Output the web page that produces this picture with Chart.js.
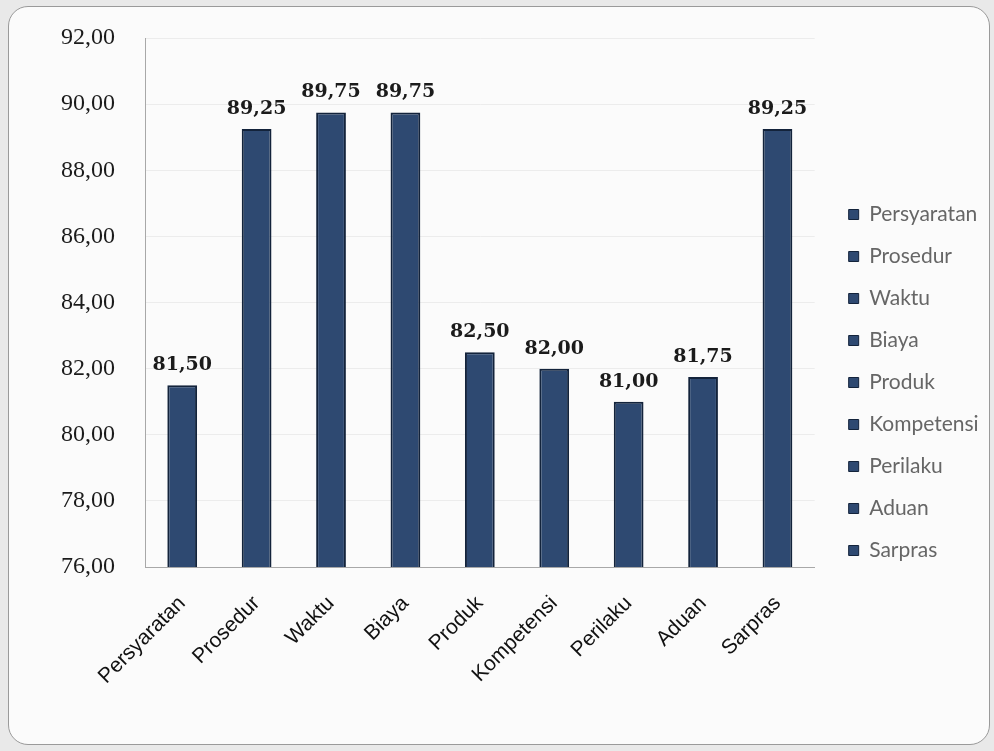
<!DOCTYPE html>
<html>
<head>
<meta charset="utf-8">
<script src="https://cdn.jsdelivr.net/npm/chart.js@4.4.1/dist/chart.umd.min.js"></script>
<style>
  html, body { margin: 0; padding: 0; background: #e9e9e9; }
  #card {
    position: absolute; left: 8px; top: 6px; width: 980px; height: 737px;
    background: #fbfbfb; border: 1px solid #9a9a9a; border-radius: 20px;
  }
  #wrap { position: absolute; left: 0; top: 0; width: 994px; height: 751px; }
</style>
</head>
<body>
<div id="card"></div>
<div id="wrap"><canvas id="myChart" width="994" height="751"></canvas></div>
<script>
// categories and values
const categories = ["Persyaratan", "Prosedur", "Waktu", "Biaya", "Produk", "Kompetensi", "Perilaku", "Aduan", "Sarpras"];
const scores = [81.50, 89.25, 89.75, 89.75, 82.50, 82.00, 81.00, 81.75, 89.25];
const yTicks = [76, 78, 80, 82, 84, 86, 88, 90, 92];

const barColor = "#2e4971";
const barEdge = "#13233b";

// formats 81.5 -> "81,50"
const fmt = v => v.toFixed(2).replace(".", ",");

// draws the value above each bar
const valueLabels = {
  id: "valueLabels",
  afterDatasetsDraw(chart) {
    const ctx = chart.ctx;
    const meta = chart.getDatasetMeta(0);
    ctx.save();
    ctx.font = "bold 19px 'DejaVu Serif'";
    ctx.fillStyle = "#1b1b1b";
    ctx.textAlign = "center";
    ctx.textBaseline = "alphabetic";
    meta.data.forEach((bar, i) => {
      ctx.fillText(fmt(scores[i]), bar.x, bar.y - 15);
    });
    ctx.restore();
  }
};

const ctx = document.getElementById("myChart");
new Chart(ctx, {
  type: "bar",
  data: {
    labels: categories,
    datasets: [{
      data: scores,
      backgroundColor: barColor,
      borderColor: barEdge,
      borderWidth: 2,
      barPercentage: 0.4,
      categoryPercentage: 1.0
    }]
  },
  options: {
    responsive: false,
    animation: false,
    layout: { padding: { left: 61, top: 38, right: 13, bottom: 46 } },
    plugins: {
      tooltip: { enabled: false },
      legend: {
        display: true,
        position: "right",
        // blank title only pushes the items down a little
        title: { display: true, text: " ", font: { size: 10 }, padding: { top: 10, bottom: 0 } },
        labels: {
          font: { family: "Lato", size: 21 },
          color: "#0c0c0c",
          boxWidth: 10,
          boxHeight: 10,
          padding: 21,
          generateLabels: () => categories.map((c, i) => ({
            text: c,
            fillStyle: barColor,
            strokeStyle: barEdge,
            lineWidth: 1,
            index: i
          }))
        }
      }
    },
    scales: {
      x: {
        grid: { display: false },
        border: { color: "#a8a8a8", width: 1 },
        ticks: {
          font: { family: "Liberation Sans", size: 21 },
          color: "#111",
          minRotation: 45,
          maxRotation: 45,
          padding: 16
        }
      },
      y: {
        min: 76,
        max: 92,
        afterBuildTicks: scale => { scale.ticks = yTicks.map(v => ({ value: v })); },
        // invisible tick marks make the space between labels and axis
        grid: { color: "#ececec", tickLength: 30, tickColor: "rgba(0,0,0,0)" },
        border: { color: "#a8a8a8", width: 1 },
        ticks: {
          font: { family: "Liberation Serif", size: 24 },
          color: "#1b1b1b",
          padding: 0,
          callback: v => fmt(v)
        }
      },
      // empty axis, only keeps a gap between the plot and the legend
      gap: {
        position: "right",
        grid: { display: false },
        border: { display: false },
        ticks: { display: false },
        afterFit: scale => { scale.width = 13; }
      }
    }
  },
  plugins: [valueLabels]
});
</script>
</body>
</html>
